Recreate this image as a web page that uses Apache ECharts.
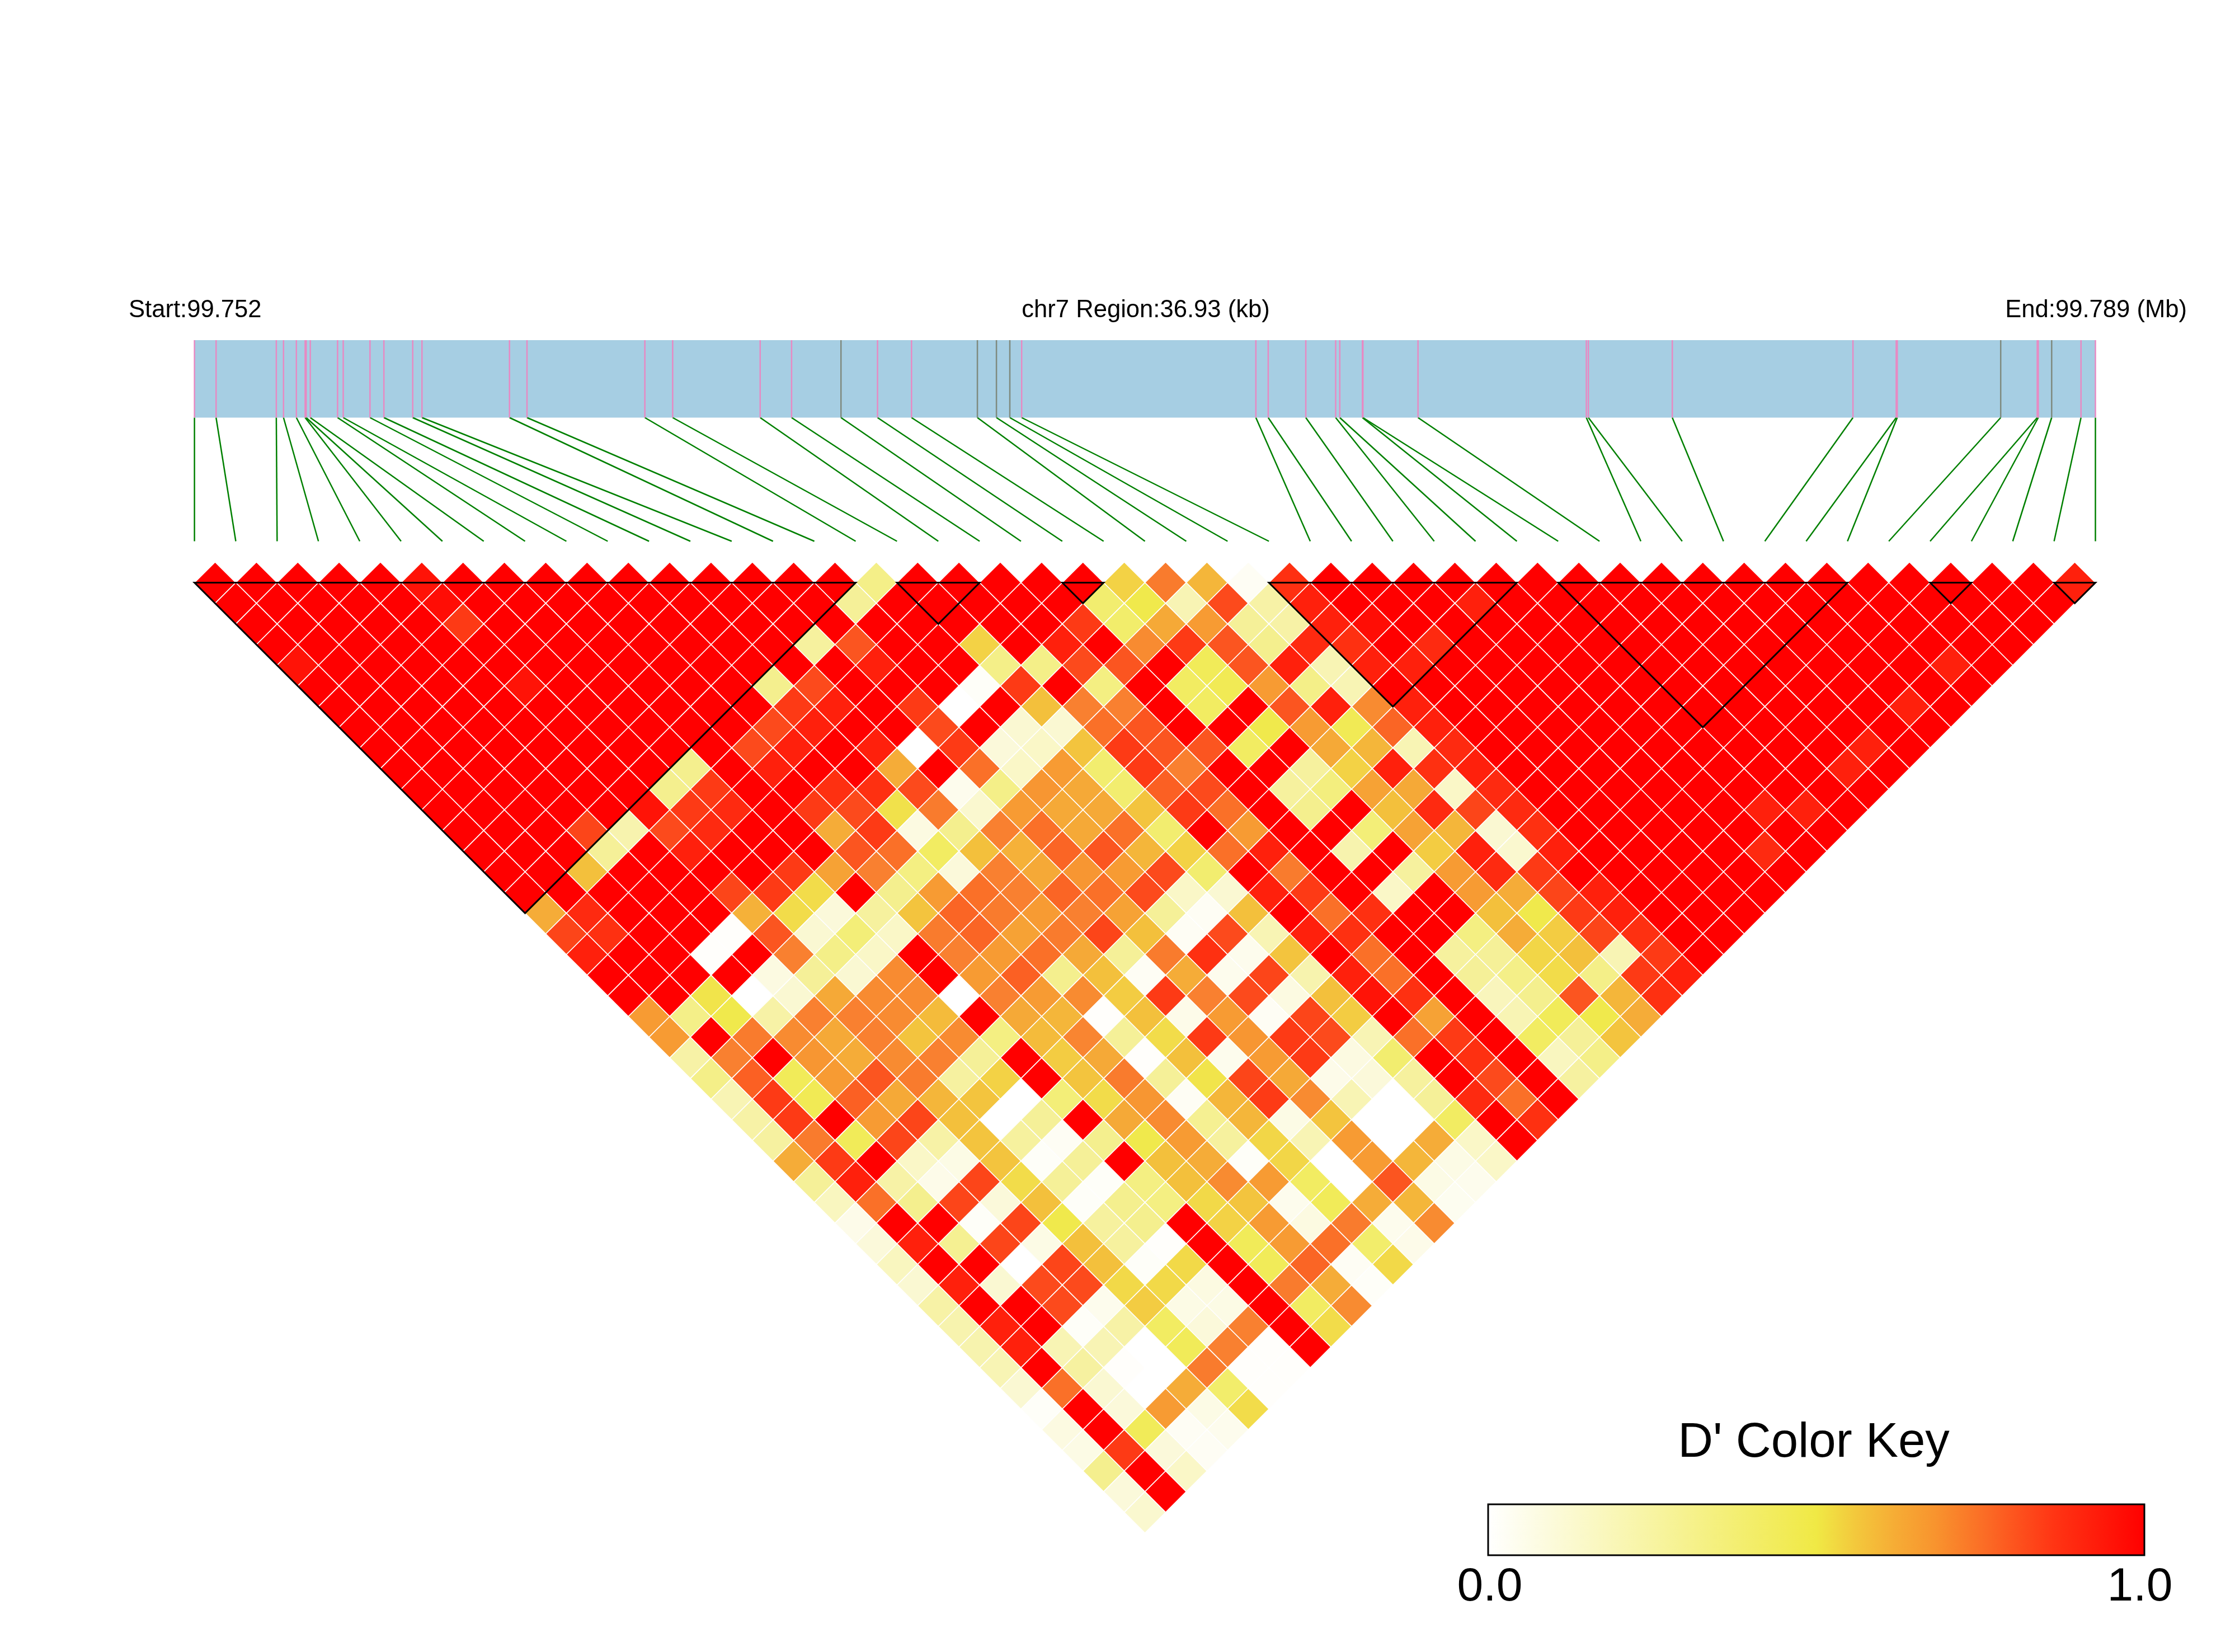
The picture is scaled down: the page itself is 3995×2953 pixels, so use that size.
<!DOCTYPE html>
<html><head><meta charset="utf-8">
<style>html,body{margin:0;padding:0;background:#fff}#c{width:3995px;height:2953px}</style>
<script src="https://cdn.jsdelivr.net/npm/echarts@6/dist/echarts.min.js"></script>
</head><body><div id="c"></div>
<script>
// SNP positions along the region, kb from the start
const snpKb=[0,.42,1.59,1.73,1.98,2.15,2.17,2.25,2.78,2.89,3.41,3.68,4.24,4.42,6.12,6.46,8.75,9.29,10.99,11.6,12.56,13.27,13.93,15.21,15.58,15.84,16.07,20.62,20.86,21.59,22.17,22.25,22.69,22.7,23.77,27.04,27.08,28.71,32.22,33.06,33.08,35.09,35.8,35.82,36.08,36.65,36.93];
const greySnps=[20,23,24,25,41,44];
const regionKb=36.93;
const blockStart=[0,17,21,26,33,42,45];
const blockEnd=[16,19,22,32,40,43,46];
// D' values, one array per distance between SNPs (left to right)
const d1=[1,1,1,1,1,.97,1,1,1,1,1,1,1,1,1,1,.35,1,1,1,1,1,.58,.78,.65,.03,.92,1,1,1,1,1,1,1,1,1,1,1,1,1,1,1,1,1,1,.95];
const d2=[1,1,1,1,1,.98,1,1,1,1,1,1,1,1,1,.3,1,1,1,1,1,.42,.5,.2,.87,.25,.95,1,1,1,.95,1,1,1,1,1,1,1,1,1,1,1,1,1,1];
const d3=[1,1,1,1,1,.9,1,1,1,1,1,1,1,1,1,1,1,1,1,1,.9,.43,.68,.72,.3,.25,.95,.98,1,1,1,1,1,1,1,1,1,1,1,1,1,1,1,1];
const d4=[1,1,1,1,1,1,1,1,1,1,1,1,1,.28,.85,1,1,.58,1,.95,1,.75,.9,.85,.33,.93,.92,1,.93,1,1,1,1,1,1,1,1,1,1,1,1,1,1];
const d5=[.97,1,1,1,1,1,1,1,1,1,1,1,1,1,.95,1,1,.35,.35,.87,.85,1,.47,.85,.95,.2,.95,.95,1,1,1,1,1,1,1,1,1,1,1,1,.95,1];
const d6=[1,1,1,1,1,.97,1,1,1,1,1,.33,.87,1,1,1,.02,.9,1,.37,1,.45,.48,.72,.35,.2,1,1,1,1,1,1,1,1,1,1,1,1,1,1,1];
const d7=[1,1,1,1,1,1,1,1,1,1,1,.9,.95,1,.9,0,1,.63,.77,.77,1,.45,1,.85,.95,.75,.95,1,1,1,1,1,1,1,1,1,1,1,.95,1];
const d8=[1,1,1,1,1,1,1,1,1,1,.87,.95,1,1,.87,1,.12,.12,.8,.85,1,1,.5,.72,.48,.82,.95,1,1,1,1,1,1,1,1,1,1,1,1];
const d9=[1,1,1,1,1,1,1,1,1,.87,.95,1,.95,0,.9,.1,.15,.62,.9,.85,.85,.45,1,.68,.65,.2,.93,1,1,1,1,1,1,1,1,1,.95,1];
const d10=[1,1,1,1,1,1,1,.33,1,.95,1,1,.67,1,.8,.15,.72,.42,.9,.77,1,1,.28,.58,.95,.92,.95,1,1,1,1,1,1,1,1,.95,1];
const d11=[1,1,1,1,1,1,.33,.9,1,1,.92,.92,.87,.05,.35,.73,.68,.42,.83,.87,1,.28,.38,.7,.68,.15,.93,1,1,1,1,1,1,1,1,1];
const d12=[1,1,1,1,1,.97,.9,.93,1,.9,.87,.53,.78,.13,.72,.68,.68,.62,.9,.8,1,.33,1,.63,.93,.88,.93,1,1,1,1,1,.95,.95,1];
const d13=[1,1,1,.88,.22,.87,.93,1,1,.67,.9,.08,.33,.77,.8,.68,.8,.42,1,.72,1,1,.4,.7,.65,.12,.92,1,1,1,1,1,1,1];
const d14=[1,1,1,.3,1,.95,1,1,1,.85,.8,.45,.63,.66,.82,.85,.65,.58,.8,.95,1,.22,1,.6,.95,.13,.95,1,1,1,1,.93,1];
const d15=[1,1,.63,1,1,1,1,.9,.7,.77,.37,.1,.77,.68,.73,.72,.87,.42,1,.78,1,1,.28,.72,.93,.9,1,1,1,1,1,1];
const d16=[1,1,1,1,1,.88,.9,.55,1,.33,.72,.8,.77,.82,.8,.87,.15,.12,.95,.9,1,.15,1,.72,.67,.88,.95,1,1,1,1];
const d17=[.67,.93,1,1,1,.66,.55,.1,.28,.62,.82,.78,.72,.77,.7,.3,.03,.63,1,.8,.92,1,1,.63,.5,.9,.95,1,1,1];
const d18=[.88,.92,1,1,.01,.85,.12,.4,.15,.78,.82,.7,.78,.88,.63,.03,.87,.2,.95,.92,1,1,.37,.67,.6,.88,.92,1,1];
const d19=[.95,1,1,.01,1,.77,.35,.15,1,.77,.72,.8,.68,.3,.78,.92,.05,.62,1,.8,1,.28,.3,.57,.63,.2,.9,1];
const d20=[1,1,1,1,.08,.3,.12,.75,1,.72,.83,.33,.63,.03,.67,.05,.88,.22,.95,.8,1,.3,.35,.55,.35,.9,.95];
const d21=[1,1,.52,0,.12,.68,.75,.75,0,.77,.72,.75,.6,.9,.77,.87,.08,.63,.97,.92,1,.18,.33,.85,.65,.92];
const d22=[.72,.35,.5,.25,.77,.77,.75,.64,1,.68,.65,.01,.63,.06,.72,.03,.88,.6,1,.7,1,.2,.47,.5,.67];
const d23=[.72,1,.78,.75,.68,.77,.62,.75,.37,.64,.76,.3,.55,.9,.73,.9,.87,.2,.8,.9,1,.45,.3,.62];
const d24=[.25,.77,1,.73,.67,.75,.77,.3,1,.6,.68,.01,.63,.05,.72,.9,.08,.42,1,.92,1,.17,.35];
const d25=[.35,.83,.47,.72,.85,.78,.27,.58,1,.62,.78,.3,.52,.88,.68,.06,.1,.28,1,.87,1,.27];
const d26=[.2,.9,.48,.83,.68,.65,.62,0,.4,.55,.73,.03,.65,.9,.75,.2,0,.3,.93,.8,1];
const d27=[.25,.9,1,.72,.88,.63,0,.3,1,.68,.75,.32,.65,.07,.62,0,0,.45,1,.92];
const d28=[.27,.78,.47,.88,.25,.62,.28,.03,.33,.5,.72,.28,.57,.2,.72,0,.67,.15,1];
const d29=[.67,.9,1,.15,.07,.62,.02,.3,1,.63,.67,.02,.57,0,.72,.65,.07,.15];
const d30=[.3,.95,.25,.06,.88,.55,.3,.02,.37,.63,.75,.72,.45,0,.85,.07,.05];
const d31=[.17,.8,.33,.88,.1,.63,.02,.33,.37,.56,.62,.05,.47,.67,.65,.04];
const d32=[.06,1,1,.02,.88,.5,.28,.33,1,.58,.72,.08,.78,.05,.75];
const d33=[.1,.95,.32,.88,.07,.63,.28,.01,1,.47,.72,.8,.43,.06];
const d34=[.17,1,1,0,.88,.63,.02,.56,1,.47,.82,.03,.56];
const d35=[.12,.95,.12,.87,.87,.56,.56,.08,1,.78,.67,.02];
const d36=[.25,1,1,.87,.05,.6,.07,.07,1,.45,.75];
const d37=[.22,.95,1,.02,.25,.45,.1,.77,1,.55];
const d38=[.22,.95,.2,.2,0,.47,.77,.01,1];
const d39=[.2,1,.27,.01,0,.78,.01,.01];
const d40=[.12,.8,.12,0,.67,.43,.01];
const d41=[.02,1,.1,.72,.07,.55];
const d42=[.08,1,.47,.03,.05];
const d43=[.07,.9,.1,.03];
const d44=[.33,1,.15];
const d45=[.1,1];
const d46=[.13];
const rows=[d1,d2,d3,d4,d5,d6,d7,d8,d9,d10,d11,d12,d13,d14,d15,d16,d17,d18,d19,d20,d21,d22,d23,d24,d25,d26,d27,d28,d29,d30,d31,d32,d33,d34,d35,d36,d37,d38,d39,d40,d41,d42,d43,d44,d45,d46];
const keyTicks=[0,1];

const keyStops=[[0,[255,255,255]],[.5,[240,233,69]],[.56,[243,200,60]],[.62,[246,172,53]],[.68,[248,148,46]],[.76,[251,106,37]],[.86,[255,53,20]],[1,[255,0,0]]];
const cellStops=[[0,[255,255,255]],[.1,[251,249,218]],[.2,[248,244,180]],[.3,[245,240,152]],[.4,[243,238,120]],[.5,[240,233,76]],[.55,[242,220,74]],[.6,[243,204,66]],[.63,[243,192,60]],[.67,[245,172,56]],[.72,[247,155,51]],[.77,[249,128,48]],[.8,[250,112,40]],[.85,[251,85,32]],[.9,[253,58,21]],[.95,[255,32,12]],[1,[255,0,0]]];
function colorOf(v){
  for(let n=1;n<cellStops.length;n++){
    if(v<=cellStops[n][0]){
      const a=cellStops[n-1],b=cellStops[n],t=(v-a[0])/(b[0]-a[0]);
      return 'rgb('+a[1].map((c,m)=>Math.round(c+(b[1][m]-c)*t)).join(',')+')';
    }
  }
  return 'rgb(255,0,0)';
}
const cells=[];
rows.forEach((r,ri)=>{const d=ri+1;r.forEach((v,k)=>cells.push([(d+2*k)/2,d,v]));});
const FONT='"Liberation Sans", Arial, sans-serif';
const L=347.6,W=3397.9;
const hiddenX=(g,max)=>({type:'value',gridIndex:g,min:0,max:max,show:false});
const hiddenY=(g,max,inv)=>({type:'value',gridIndex:g,min:0,max:max,show:false,inverse:!!inv});
const chart=echarts.init(document.getElementById('c'),null,{renderer:'canvas',width:3995,height:2953});
chart.setOption({
  animation:false,backgroundColor:'#fff',
  grid:[
    {left:L,width:W,top:608,height:138.5,show:false},
    {left:L,width:W,top:746.5,height:221,show:false},
    {left:L,width:W,top:1004.57,height:1735.7,show:false},
    {left:2660,width:1173,top:2689,height:91,show:false},
    {left:2663,width:1162,top:2689,height:91,show:false}
  ],
  xAxis:[hiddenX(0,regionKb),hiddenX(1,regionKb),hiddenX(2,46),hiddenX(3,1),
    {type:'value',gridIndex:4,min:0,max:1,interval:1,axisLine:{show:false},axisTick:{show:false},splitLine:{show:false},
     axisLabel:{show:true,margin:16,color:'#000',fontFamily:FONT,fontSize:84,showMinLabel:true,showMaxLabel:true,hideOverlap:false,formatter:v=>v.toFixed(1)}}],
  yAxis:[hiddenY(0,1),hiddenY(1,1,true),hiddenY(2,47,true),hiddenY(3,1),hiddenY(4,1)],
  graphic:[
    {type:'text',left:230,top:533,style:{text:'Start:99.752',font:'43.6px '+FONT,fill:'#000'}},
    {type:'text',x:2048,y:533,style:{text:'chr7 Region:36.93 (kb)',font:'43.6px '+FONT,fill:'#000',textAlign:'center'}},
    {type:'text',x:3909,y:533,style:{text:'End:99.789 (Mb)',font:'43.6px '+FONT,fill:'#000',textAlign:'right'}},
    {type:'text',x:3242,y:2537,style:{text:"D' Color Key",font:'87px '+FONT,fill:'#000',textAlign:'center'}}
  ],
  series:[
    {type:'custom',xAxisIndex:0,yAxisIndex:0,silent:true,data:[[0,regionKb]],encode:{x:[0,1]},
     renderItem:(p,api)=>{const a=api.coord([api.value(0),1]),b=api.coord([api.value(1),0]);
       return {type:'rect',shape:{x:a[0],y:a[1],width:b[0]-a[0],height:b[1]-a[1]},style:{fill:'#A6CEE3'}};}},
    {type:'custom',xAxisIndex:0,yAxisIndex:0,silent:true,z:3,data:snpKb.map((k,i)=>[k,i]),encode:{x:0},
     renderItem:(p,api)=>{const a=api.coord([api.value(0),1]),b=api.coord([api.value(0),0]);
       return {type:'line',shape:{x1:a[0],y1:a[1],x2:b[0],y2:b[1]},style:{stroke:greySnps.includes(api.value(1))?'#7F8A7F':'#E78AC3',lineWidth:2.5}};}},
    {type:'custom',xAxisIndex:1,yAxisIndex:1,silent:true,data:snpKb.map((k,i)=>[k,i*regionKb/46]),encode:{x:[0,1]},
     renderItem:(p,api)=>{const a=api.coord([api.value(0),0]),b=api.coord([api.value(1),1]);
       return {type:'line',shape:{x1:a[0],y1:a[1],x2:b[0],y2:b[1]},style:{stroke:'#008000',lineWidth:2.5}};}},
    {type:'custom',xAxisIndex:2,yAxisIndex:2,silent:true,data:cells,encode:{x:0,y:1},
     renderItem:(p,api)=>{const x=api.value(0),y=api.value(1);
       const pts=[[x,y-1],[x+.5,y],[x,y+1],[x-.5,y]].map(q=>api.coord(q));
       return {type:'polygon',shape:{points:pts},style:{fill:colorOf(api.value(2)),stroke:'#fff',lineWidth:1.6}};}},
    {type:'custom',xAxisIndex:2,yAxisIndex:2,silent:true,z:4,data:blockStart.map((b,i)=>[b,blockEnd[i]]),encode:{x:[0,1]},
     renderItem:(p,api)=>{const a=api.value(0),b=api.value(1);
       const pts=[[a,1],[b,1],[(a+b)/2,1+(b-a)]].map(q=>api.coord(q));
       return {type:'polygon',shape:{points:pts},style:{fill:'none',stroke:'#000',lineWidth:3}};}},
    {type:'custom',xAxisIndex:3,yAxisIndex:3,silent:true,data:[keyTicks],encode:{x:[0,1]},
     renderItem:(p,api)=>{const a=api.coord([api.value(0),1]),b=api.coord([api.value(1),0]);
       return {type:'rect',shape:{x:a[0],y:a[1],width:b[0]-a[0],height:b[1]-a[1]},
         style:{fill:{type:'linear',x:0,y:0,x2:1,y2:0,colorStops:keyStops.map(s=>({offset:s[0],color:'rgb('+s[1].join(',')+')'}))},stroke:'#000',lineWidth:3}};}}
  ]
});
</script></body></html>
